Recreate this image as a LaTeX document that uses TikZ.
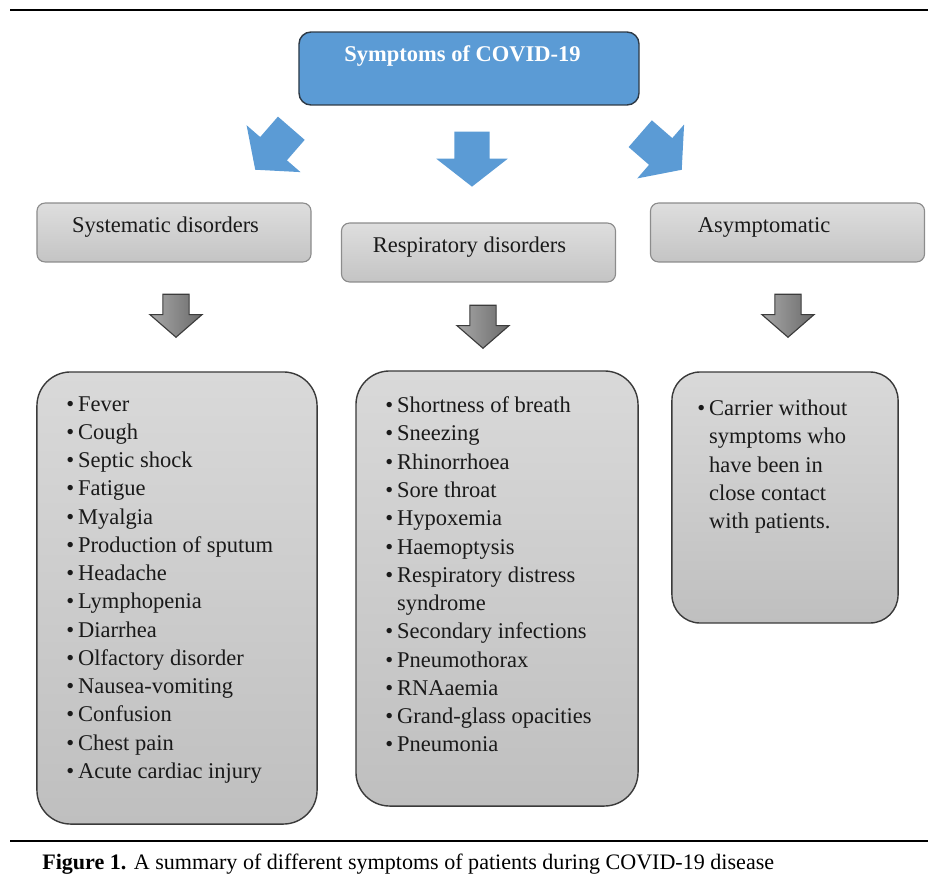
\documentclass[tikz,border=0pt]{standalone}
\usepackage{fontspec}
\setmainfont{Liberation Serif}
\usepackage{tikz}
\usetikzlibrary{shapes.arrows}
\definecolor{covblue}{HTML}{5B9BD5}
\definecolor{titleline}{HTML}{2E3A46}
\definecolor{catline}{HTML}{8C8C8C}
\definecolor{catlight}{HTML}{DEDEDE}
\definecolor{catdark}{HTML}{C4C4C4}
\definecolor{listline}{HTML}{3A3A3A}
\definecolor{listlight}{HTML}{D9D9D9}
\definecolor{listdark}{HTML}{BFBFBF}
\definecolor{garrowline}{HTML}{3C3C3C}
\definecolor{garrowlight}{HTML}{A8A8A8}
\definecolor{garrowdark}{HTML}{6A6A6A}
\definecolor{inktext}{HTML}{1A1A1A}
\newcommand{\itemdot}{\makebox[8.5pt][l]{\textbullet}}

\begin{document}
\begin{tikzpicture}[x=0.025cm, y=-0.025cm,
    topbox/.style={draw=titleline, line width=1pt, fill=covblue, rounded corners=8.5pt,
                   minimum width=241.8pt, inner sep=0pt, text height=21.3pt, text depth=30.6pt,
                   text=white, font=\fontsize{16pt}{20pt}\selectfont\bfseries},
    catbox/.style={draw=catline, line width=0.8pt, top color=catlight, bottom color=catdark,
                   rounded corners=5.7pt, minimum width=194.9pt, inner sep=0pt,
                   text height=21.3pt, text depth=20.6pt, text=inktext,
                   font=\fontsize{16pt}{20pt}\selectfont},
    listbox/.style={draw=listline, line width=1pt, top color=listlight, bottom color=listdark,
                    rounded corners=24pt},
    listtext/.style={anchor=north west, align=left, inner sep=0pt, text=inktext,
                     font=\fontsize{16pt}{20.1pt}\selectfont},
    bluearrow/.style={single arrow, fill=covblue, inner xsep=0pt, inner ysep=12.4pt, anchor=tip,
                      minimum height=39.1pt, minimum width=50.5pt,
                      single arrow head extend=12.8pt, single arrow tip angle=104},
    grayarrow/.style={single arrow, draw=garrowline, line width=0.8pt, left color=garrowlight,
                      right color=garrowdark, inner xsep=0pt, inner ysep=8.9pt, anchor=tip,
                      rotate=-90, minimum height=30.6pt, minimum width=36.3pt,
                      single arrow head extend=9.2pt, single arrow tip angle=98}]
  \useasboundingbox (0,0) rectangle (928,875);
  % rules above and below
  \draw[line width=1.5pt] (10,10) -- (928,10);
  \draw[line width=1.5pt] (10,841) -- (928,841);

  % title
  \node[topbox] (covid) at (469,68.5) {Symptoms of COVID-19\hspace*{9.2pt}};
  \node[bluearrow, rotate=-131] (bl) at (255,170) {};
  \node[bluearrow, rotate=-90] (bc) at (472,187) {};
  \node[bluearrow, rotate=-41] (br) at (682,170) {};

  % groups
  \node[catbox] (sys) at (174,232.5) {Systematic disorders\hspace*{12pt}};
  \node[catbox] (res) at (478.5,252.5) {Respiratory disorders\hspace*{12.8pt}};
  \node[catbox] (asy) at (787.5,232.5) {Asymptomatic\hspace*{33.4pt}};
  \node[grayarrow] (gs) at (176,338) {};
  \node[grayarrow] (gr) at (483,349) {};
  \node[grayarrow] (ga) at (788,338) {};

  % lists
  \node[listbox, minimum width=199.2pt, minimum height=321.5pt] (sysbox) at (177,598) {};
  \node[listbox, minimum width=200.6pt, minimum height=309.4pt] (resbox) at (497,588.5) {};
  \node[listbox, minimum width=160.8pt, minimum height=178.5pt, rounded corners=20pt] (asybox) at (785,497.5) {};
  \node[listtext] (syslist) at (66,396) {\itemdot Fever\\ \itemdot Cough\\ \itemdot Septic shock\\
    \itemdot Fatigue\\ \itemdot Myalgia\\ \itemdot Production of sputum\\ \itemdot Headache\\
    \itemdot Lymphopenia\\ \itemdot Diarrhea\\ \itemdot Olfactory disorder\\
    \itemdot Nausea-vomiting\\ \itemdot Confusion\\ \itemdot Chest pain\\
    \itemdot Acute cardiac injury};
  \node[listtext] (reslist) at (385,396.6) {\itemdot Shortness of breath\\ \itemdot Sneezing\\
    \itemdot Rhinorrhoea\\ \itemdot Sore throat\\ \itemdot Hypoxemia\\ \itemdot Haemoptysis\\
    \itemdot Respiratory distress\\ \hspace*{8.5pt}syndrome\\ \itemdot Secondary infections\\
    \itemdot Pneumothorax\\ \itemdot RNAaemia\\ \itemdot Grand-glass opacities\\
    \itemdot Pneumonia};
  \node[listtext] (asylist) at (697,399.6) {\itemdot Carrier without\\ \hspace*{8.5pt}symptoms who\\
    \hspace*{8.5pt}have been in\\ \hspace*{8.5pt}close contact\\ \hspace*{8.5pt}with patients.};

  \node[anchor=base west, inner sep=0pt, font=\fontsize{15.7pt}{19pt}\selectfont] (caption) at (42,869)
    {\textbf{Figure 1.} A summary of different symptoms of patients during COVID-19 disease};
\end{tikzpicture}
\end{document}
